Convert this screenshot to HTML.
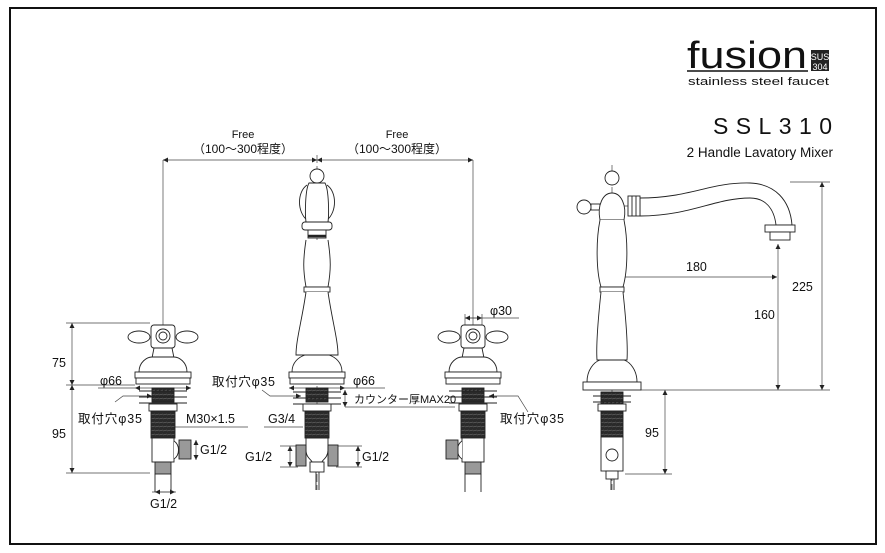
<!DOCTYPE html>
<html><head><meta charset="utf-8"><style>
html,body{margin:0;padding:0;background:#fff;}
svg{display:block;}
text{font-family:"Liberation Sans","Noto Sans CJK JP",sans-serif;fill:#111;}
</style></head><body>
<svg width="885" height="553" viewBox="0 0 885 553" xmlns="http://www.w3.org/2000/svg">
<defs>
<marker id="a" viewBox="0 0 10 10" refX="10" refY="5" markerWidth="7" markerHeight="5" orient="auto-start-reverse" markerUnits="userSpaceOnUse"><path d="M0,0 L10,5 L0,10 z" fill="#222"/></marker>
<pattern id="th" width="4" height="4" patternUnits="userSpaceOnUse"><rect width="4" height="4" fill="#2a2a2a"/><line x1="0" y1="3" x2="4" y2="2" stroke="#777" stroke-width="0.6"/></pattern>
<g id="valve" fill="#fff" stroke="#222" stroke-width="0.9">
 <ellipse cx="-24" cy="337" rx="11" ry="6"/>
 <ellipse cx="24" cy="337" rx="11" ry="6"/>
 <rect x="-12" y="325" width="24" height="23" rx="3"/>
 <circle cx="0" cy="336" r="7"/><circle cx="0" cy="336" r="4"/>
 <path d="M-9,348 L9,348 L11,358 L-11,358 z"/>
 <path d="M-24,372 C-24,362 -16,357 -11,357 L11,357 C16,357 24,362 24,372 z"/>
 <rect x="-28" y="372" width="56" height="6"/>
 <rect x="-27" y="378" width="54" height="6"/>
 <rect x="-11" y="388" width="22" height="14" fill="url(#th)"/>
 <line x1="-24" y1="391" x2="24" y2="391"/><line x1="-24" y1="397" x2="24" y2="397"/><line x1="-24" y1="403" x2="24" y2="403"/>
 <rect x="-14" y="404" width="28" height="7"/>
 <rect x="-12" y="411" width="24" height="27" fill="url(#th)"/>
 <rect x="-11" y="438" width="22" height="24"/>
 <rect x="-8" y="462" width="16" height="12" fill="#999"/>
 <line x1="-8" y1="474" x2="-8" y2="492"/><line x1="8" y1="474" x2="8" y2="492"/>
</g>
</defs>

<rect x="10" y="8" width="866" height="536" fill="none" stroke="#111" stroke-width="2"/>

<text x="687" y="68" font-size="38" textLength="120" lengthAdjust="spacingAndGlyphs">fusion</text>
<line x1="687" y1="71" x2="808" y2="71" stroke="#111" stroke-width="1.6"/>
<rect x="811" y="50" width="18" height="21" fill="#222"/>
<text x="820" y="60" font-size="9" text-anchor="middle" style="fill:#fff">SUS</text>
<text x="820" y="70" font-size="9" text-anchor="middle" style="fill:#fff">304</text>
<text x="688" y="85" font-size="11" textLength="141" lengthAdjust="spacingAndGlyphs">stainless steel faucet</text>
<text x="713" y="134" font-size="23" textLength="119">SSL310</text>
<text x="833" y="157" font-size="13.5" text-anchor="end">2 Handle Lavatory Mixer</text>

<g stroke="#444" stroke-width="0.7" fill="none">
 <line x1="163" y1="160" x2="163" y2="330"/>
 <line x1="473" y1="160" x2="473" y2="330"/>
 <line x1="163" y1="160" x2="317" y2="160" marker-start="url(#a)" marker-end="url(#a)"/>
 <line x1="317" y1="160" x2="473" y2="160" marker-start="url(#a)" marker-end="url(#a)"/>
 <line x1="317" y1="155" x2="317" y2="490" stroke-dasharray="8,3"/>
 <line x1="66" y1="323" x2="150" y2="323"/>
 <line x1="66" y1="385" x2="135" y2="385"/>
 <line x1="66" y1="473" x2="150" y2="473"/>
 <line x1="72" y1="323" x2="72" y2="385" marker-start="url(#a)" marker-end="url(#a)"/>
 <line x1="72" y1="385" x2="72" y2="473" marker-start="url(#a)" marker-end="url(#a)"/>
 <line x1="98" y1="388" x2="135" y2="388"/>
 <line x1="135" y1="388" x2="191" y2="388" marker-start="url(#a)" marker-end="url(#a)"/>
 <path d="M115,402 L123,396 L152,396" marker-end="url(#a)"/>
 <line x1="185" y1="427" x2="248" y2="427"/>
 <line x1="185" y1="427" x2="163" y2="427" marker-end="url(#a)"/>
 <line x1="152" y1="492" x2="176" y2="492"/>
 <line x1="155" y1="492" x2="175" y2="492" marker-start="url(#a)" marker-end="url(#a)"/>
 <line x1="196" y1="440" x2="196" y2="460" marker-start="url(#a)" marker-end="url(#a)"/>
 <path d="M262,390 L270,396 L301,396" marker-end="url(#a)"/>
 <line x1="289" y1="388" x2="345" y2="388" marker-start="url(#a)" marker-end="url(#a)"/>
 <line x1="345" y1="388" x2="385" y2="388"/>
 <line x1="345" y1="390" x2="345" y2="407" marker-start="url(#a)" marker-end="url(#a)"/>
 <line x1="345" y1="407" x2="455" y2="407"/>
 <line x1="264" y1="427" x2="303" y2="427"/>
 <line x1="290" y1="446" x2="290" y2="467" marker-start="url(#a)" marker-end="url(#a)"/>
 <line x1="358" y1="446" x2="358" y2="467" marker-start="url(#a)" marker-end="url(#a)"/>
 <line x1="280" y1="446" x2="298" y2="446"/><line x1="280" y1="467" x2="298" y2="467"/>
 <line x1="336" y1="446" x2="362" y2="446"/><line x1="336" y1="467" x2="362" y2="467"/>
 <line x1="465" y1="318" x2="519" y2="318"/>
 <line x1="465" y1="318" x2="482" y2="318" marker-start="url(#a)" marker-end="url(#a)"/>
 <line x1="465" y1="314" x2="465" y2="328"/><line x1="482" y1="314" x2="482" y2="328"/>
 <path d="M528,412 L518,396 L489,396" marker-end="url(#a)"/>
 <line x1="614" y1="277" x2="777" y2="277" marker-start="url(#a)" marker-end="url(#a)"/>
 <line x1="778" y1="244" x2="778" y2="390" marker-start="url(#a)" marker-end="url(#a)"/>
 <line x1="790" y1="182" x2="830" y2="182"/>
 <line x1="822" y1="182" x2="822" y2="390" marker-start="url(#a)" marker-end="url(#a)"/>
 <line x1="640" y1="390" x2="830" y2="390"/>
 <line x1="665" y1="390" x2="665" y2="474" marker-start="url(#a)" marker-end="url(#a)"/>
 <line x1="625" y1="474" x2="672" y2="474"/>
 <line x1="612" y1="165" x2="612" y2="490" stroke-dasharray="8,3"/>
 <path d="M600,206 L645,206 C700,206 720,188 760,190" stroke-dasharray="8,3"/>
</g>

<use href="#valve" x="163"/>
<use href="#valve" x="473"/>
<g fill="#fff" stroke="#222" stroke-width="0.9">
 <path d="M174,441 C180,445 180,455 174,459"/>
 <rect x="179" y="440" width="12" height="19" fill="#999"/>
 <path d="M462,441 C456,445 456,455 462,459"/>
 <rect x="446" y="440" width="12" height="19" fill="#999"/>

 <path d="M307,185 C297,192 297,212 307,220 M327,185 C337,192 337,212 327,220"/>
 <circle cx="317" cy="176" r="7"/>
 <path d="M309,183 L325,183 C329,190 329,215 328,222 L306,222 C305,215 305,190 309,183 z"/>
 <rect x="302" y="222" width="30" height="8" rx="3"/>
 <rect x="308" y="230" width="18" height="8"/>
 <line x1="308" y1="236" x2="326" y2="236" stroke-width="2.5"/>
 <path d="M306,240 C303,260 303,270 306,287 L328,287 C331,270 331,260 328,240"/>
 <rect x="304" y="287" width="26" height="5"/>
 <path d="M306,292 C302,320 296,340 296,355 L338,355 C338,340 332,320 328,292"/>
 <path d="M292,372 C292,362 299,357 305,355 L329,355 C335,357 342,362 342,372 z"/>
 <rect x="289" y="372" width="56" height="6"/><rect x="290" y="378" width="54" height="6"/>
 <rect x="306" y="388" width="22" height="14" fill="url(#th)"/>
 <line x1="293" y1="392" x2="341" y2="392"/><line x1="293" y1="398" x2="341" y2="398"/><line x1="293" y1="404" x2="341" y2="404"/>
 <rect x="303" y="404" width="28" height="7"/>
 <rect x="305" y="411" width="24" height="27" fill="url(#th)"/>
 <path d="M306,438 L328,438 L328,450 C328,458 322,460 322,462 L312,462 C312,460 306,458 306,450 z"/>
 <rect x="296" y="445" width="10" height="21" fill="#999"/>
 <rect x="328" y="445" width="10" height="21" fill="#999"/>
 <rect x="310" y="462" width="14" height="10"/>
 <line x1="316" y1="472" x2="316" y2="490"/><line x1="319" y1="472" x2="319" y2="490"/>

 <path d="M640,198 C690,198 710,182 750,183 C775,184 790,200 792,225 L776,225 C774,208 765,198 750,198 C715,198 690,216 640,216 z"/>
 <rect x="628" y="196" width="12" height="20"/>
 <line x1="632" y1="196" x2="632" y2="216"/><line x1="636" y1="196" x2="636" y2="216"/>
 <circle cx="612" cy="178" r="7"/>
 <circle cx="584" cy="207" r="7"/>
 <rect x="591" y="204" width="9" height="6"/>
 <path d="M600,220 C597,205 603,193 612,193 C621,193 627,205 624,220 z"/>
 <path d="M600,220 C596,240 596,270 601,287 L623,287 C628,270 628,240 624,220"/>
 <rect x="600" y="287" width="24" height="5"/>
 <path d="M601,292 C598,320 596,345 597,360 L627,360 C628,345 626,320 623,292"/>
 <path d="M587,382 C587,370 594,362 600,360 L624,360 C630,362 637,370 637,382 z"/>
 <rect x="583" y="382" width="58" height="8"/>
 <rect x="765" y="225" width="30" height="7"/>
 <rect x="770" y="232" width="20" height="8"/>
 <rect x="601" y="392" width="22" height="12" fill="url(#th)"/>
 <line x1="593" y1="396" x2="631" y2="396"/><line x1="593" y1="402" x2="631" y2="402"/>
 <rect x="598" y="404" width="28" height="7"/>
 <rect x="601" y="411" width="22" height="26" fill="url(#th)"/>
 <rect x="601" y="437" width="22" height="34"/>
 <circle cx="612" cy="455" r="6"/>
 <rect x="606" y="471" width="12" height="8"/>
 <line x1="611" y1="479" x2="611" y2="490"/><line x1="614" y1="479" x2="614" y2="490"/>
</g>

<g font-size="12.5">
 <text x="243" y="138" text-anchor="middle" font-size="11">Free</text>
 <text x="243" y="153" text-anchor="middle" font-size="12">（100～300程度）</text>
 <text x="397" y="138" text-anchor="middle" font-size="11">Free</text>
 <text x="397" y="153" text-anchor="middle" font-size="12">（100～300程度）</text>
 <text x="52" y="367">75</text>
 <text x="52" y="438">95</text>
 <text x="100" y="385">φ66</text>
 <text x="78" y="423" textLength="64">取付穴φ35</text>
 <text x="186" y="423">M30×1.5</text>
 <text x="200" y="454">G1/2</text>
 <text x="150" y="508">G1/2</text>
 <text x="212" y="386" textLength="63">取付穴φ35</text>
 <text x="353" y="385">φ66</text>
 <text x="354" y="403" font-size="11">カウンター厚MAX20</text>
 <text x="268" y="423">G3/4</text>
 <text x="245" y="461">G1/2</text>
 <text x="362" y="461">G1/2</text>
 <text x="490" y="315">φ30</text>
 <text x="500" y="423" textLength="64">取付穴φ35</text>
 <text x="686" y="271">180</text>
 <text x="754" y="319">160</text>
 <text x="792" y="291">225</text>
 <text x="645" y="437">95</text>
</g>
</svg>
</body></html>
